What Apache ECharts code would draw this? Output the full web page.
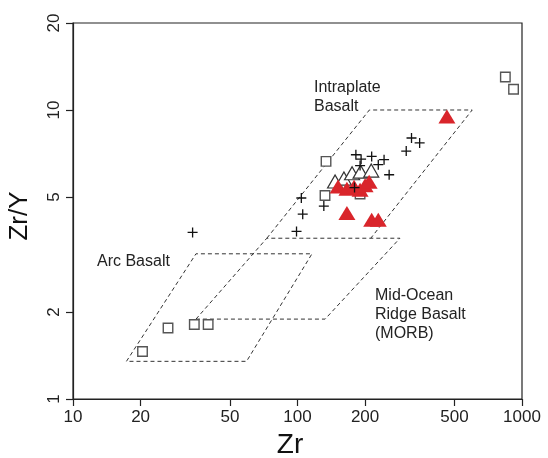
<!DOCTYPE html>
<html>
<head>
<meta charset="utf-8">
<script src="https://cdn.jsdelivr.net/npm/echarts@6/dist/echarts.min.js"></script>
<style>html,body{margin:0;padding:0;background:#fff;}#c{width:548px;height:458px;}</style>
</head>
<body>
<div id="c"></div>
<script>
// Tick labels
const xTicks = [10, 20, 50, 100, 200, 500, 1000];
const yTicks = [1, 2, 5, 10, 20];

// Discrimination fields (Zr, Zr/Y)
const intraplateField = [[73, 3.6], [209, 10], [600, 10], [212, 3.6]];
const morbField = [[35.3, 1.89], [73, 3.6], [286, 3.6], [132.7, 1.89], [35.3, 1.89]];
const arcField = [[17.3, 1.35], [35.3, 3.18], [116, 3.18], [59.3, 1.35], [17.3, 1.35]];

// Samples (Zr, Zr/Y)
const squares = [[20.4, 1.46], [26.5, 1.76], [34.7, 1.81], [40, 1.81], [134, 6.64], [132.6, 5.06], [190, 5.12], [843, 13.0], [917, 11.8]];
const openTriangles = [[147, 5.66], [161, 5.79], [175, 6.04], [191, 6.12], [213, 6.17]];
const redTriangles = [[463, 9.5], [151.6, 5.44], [166, 5.34], [178.6, 5.43], [190, 5.3], [200, 5.49], [208.5, 5.65], [166, 4.40], [214, 4.17], [229, 4.17]];
const crosses = [[322, 8.0], [350, 7.69], [305, 7.21], [182, 7.0], [214, 6.91], [243, 6.73], [229, 6.47], [192, 6.76], [190, 6.42], [256, 5.97], [179.5, 5.39], [104, 4.96], [105.5, 4.36], [131, 4.65], [99, 3.80], [34.1, 3.77]];

const fieldLine = { color: '#333', width: 1, type: [4, 3] };
const plusPath = 'path://M4.35,0H5.65V4.35H10V5.65H5.65V10H4.35V5.65H0V4.35H4.35Z';
const FONT = 'Liberation Sans, Arial, sans-serif';

const chart = echarts.init(document.getElementById('c'));
chart.setOption({
  animation: false,
  backgroundColor: '#fff',
  grid: { left: 73, top: 23, width: 449, height: 376, show: true, borderColor: '#222', borderWidth: 1.2, containLabel: false, outerBoundsMode: 'none' },
  xAxis: {
    type: 'log', logBase: 10, min: 10, max: 1000,
    name: 'Zr', nameLocation: 'middle', nameGap: 32,
    nameTextStyle: { fontSize: 28, color: '#111', fontFamily: FONT, padding: [0, 15, 0, 0] },
    axisLine: { show: true, lineStyle: { color: '#222', width: 1.2 } },
    axisTick: { show: true, length: 7, lineStyle: { color: '#222', width: 1.2 }, customValues: xTicks },
    axisLabel: { fontSize: 17, color: '#222', fontFamily: FONT, margin: 10, customValues: xTicks, showMinLabel: true, showMaxLabel: true, formatter: function (v) { return String(v); } },
    splitLine: { show: false }, minorTick: { show: false }
  },
  yAxis: {
    type: 'log', logBase: 10, min: 1, max: 20,
    name: 'Zr/Y', nameLocation: 'middle', nameGap: 40, nameRotate: 90,
    nameTextStyle: { fontSize: 26, color: '#111', fontFamily: FONT, padding: [0, 10, 0, 0] },
    axisLine: { show: true, lineStyle: { color: '#222', width: 1.2 } },
    axisTick: { show: true, length: 7, lineStyle: { color: '#222', width: 1.2 }, customValues: yTicks },
    axisLabel: { fontSize: 17, color: '#222', fontFamily: FONT, margin: 10, rotate: 90, customValues: yTicks, showMinLabel: true, showMaxLabel: true, formatter: function (v) { return String(v); } },
    splitLine: { show: false }, minorTick: { show: false }
  },
  graphic: [
    { type: 'text', left: 314, top: 78, style: { text: 'Intraplate\nBasalt', font: '16px ' + FONT, fill: '#222', lineHeight: 19 } },
    { type: 'text', left: 97, top: 252, style: { text: 'Arc Basalt', font: '16px ' + FONT, fill: '#222', lineHeight: 19 } },
    { type: 'text', left: 375, top: 286, style: { text: 'Mid-Ocean\nRidge Basalt\n(MORB)', font: '16px ' + FONT, fill: '#222', lineHeight: 19 } }
  ],
  series: [
    { type: 'line', data: intraplateField, symbol: 'none', lineStyle: fieldLine, silent: true, z: 1 },
    { type: 'line', data: morbField, symbol: 'none', lineStyle: fieldLine, silent: true, z: 1 },
    { type: 'line', data: arcField, symbol: 'none', lineStyle: fieldLine, silent: true, z: 1 },
    { type: 'scatter', data: squares, symbol: 'rect', symbolSize: 9.5, itemStyle: { color: '#fff', borderColor: '#555', borderWidth: 1.4, opacity: 1 }, z: 2 },
    { type: 'scatter', data: openTriangles, symbol: 'triangle', symbolSize: [15, 13], itemStyle: { color: '#fff', borderColor: '#333', borderWidth: 1.2, opacity: 1 }, z: 3 },
    { type: 'scatter', data: redTriangles, symbol: 'triangle', symbolSize: [17, 14], itemStyle: { color: '#d9252b', opacity: 1 }, z: 4 },
    { type: 'scatter', data: crosses, symbol: plusPath, symbolSize: 10, itemStyle: { color: '#111', opacity: 1 }, z: 5 }
  ]
});
</script>
</body>
</html>
